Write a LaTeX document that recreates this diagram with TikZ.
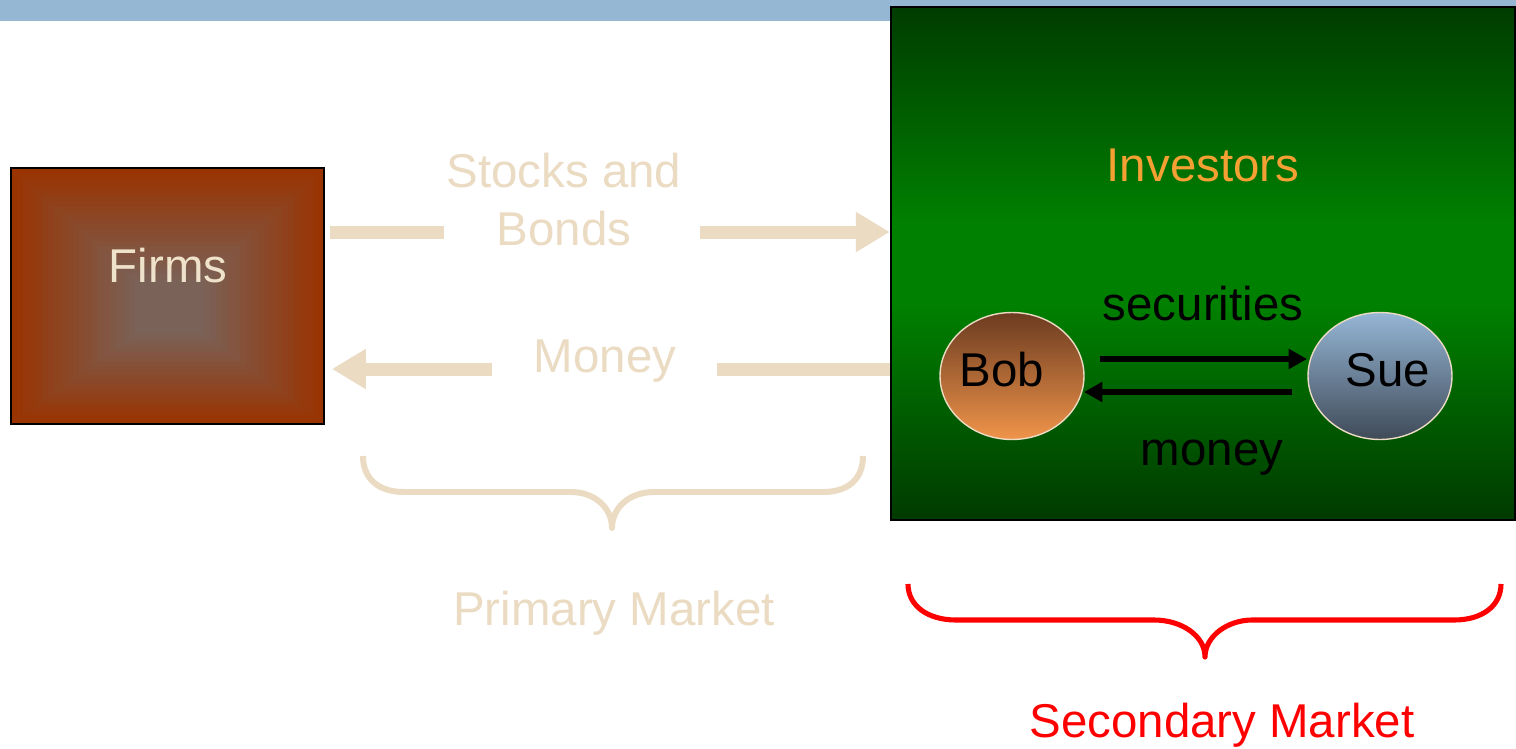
\documentclass[tikz,border=0pt]{standalone}
\usepackage{fontspec}
\setmainfont{Liberation Sans}
\usetikzlibrary{arrows.meta,shapes.geometric}
\definecolor{barblue}{HTML}{95B7D3}
\definecolor{cream}{HTML}{EADBC2}
\definecolor{firmtxt}{HTML}{EFE2CB}
\definecolor{firmout}{HTML}{993300}
\definecolor{firmin}{HTML}{7A6258}
\definecolor{gtop}{HTML}{003C00}
\definecolor{gmid}{HTML}{008000}
\definecolor{gbot}{HTML}{003A00}
\definecolor{invorange}{HTML}{F5A033}
\definecolor{bobtop}{HTML}{6B3B20}
\definecolor{bobbot}{HTML}{F0944A}
\definecolor{suetop}{HTML}{95B6D5}
\definecolor{suebot}{HTML}{3F4A58}
% green band: dark at both edges, bright in the middle
\pgfdeclareverticalshading{greenband}{100bp}{color(0bp)=(gbot); color(25bp)=(gbot);
  color(46bp)=(gmid); color(54bp)=(gmid); color(75bp)=(gtop); color(100bp)=(gtop)}
\begin{document}
\begin{tikzpicture}[x=0.02cm,y=-0.02cm,
  lbl/.style={font=\fontsize{27}{32}\selectfont, anchor=base, inner sep=0pt},
  flow/.style={draw=cream, line width=7.4pt},
  flowtip/.style={flow, -{Triangle[length=19.3pt,width=21.6pt]}},
  trade/.style={draw=black, line width=3.1pt, -{Triangle[length=10.5pt,width=11pt]}},
  person/.style={ellipse, draw=cream, line width=0.8pt, minimum width=2.88cm,
                 minimum height=2.54cm, inner sep=0pt},
  brace/.style={line join=round}]
\useasboundingbox (0,0) rectangle (1516,748);
\fill[white] (0,0) rectangle (1516,748);

% title bar
\fill[barblue] (0,0) rectangle (1516,21);

% firms box with a rectangular gradient
\foreach \i in {0,...,24}{
  \pgfmathsetmacro{\p}{min(100,\i*5)}
  \fill[firmin!\p!firmout] (11+\i*6.2,168+\i*5.6) rectangle (324-\i*6.0,424-\i*4.5);
}
\node[draw=black, line width=1.1pt, minimum width=6.26cm, minimum height=5.12cm,
      inner sep=0pt] (firms) at (167.5,296) {};
\node[lbl, text=firmtxt] (firmstxt) at (168,282) {Firms};

% investors box
\node[draw=black, line width=1.5pt, shading=greenband,
      minimum width=12.48cm, minimum height=10.26cm, inner sep=0pt] (market) at (1203,263.5) {};
\node[lbl, text=invorange] (invtxt) at (1203,181) {Investors};

% primary market flows
\coordinate (sbA) at (330,232);
\coordinate (sbB) at (444,232);
\coordinate (sbC) at (700,232);
\draw[flow] (sbA) -- (sbB);
\draw[flowtip] (sbC) -- (market.west |- sbC);
\node[lbl, text=cream] (stocks) at (564,187) {Stocks and};
\node[lbl, text=cream] (bonds) at (564,245) {Bonds};

\coordinate (moA) at (717,369);
\coordinate (moB) at (492,369);
\coordinate (moC) at (332,369);
\draw[flow] (market.west |- moA) -- (moA);
\draw[flowtip] (moB) -- (moC);
\node[lbl, text=cream] (moneytxt) at (605,372) {Money};

% traders
\node[person, top color=bobtop, bottom color=bobbot] (bob) at (1012,376) {};
\node[person, top color=suetop, bottom color=suebot] (sue) at (1380,376) {};
\node[lbl] (bobtxt) at (1002,386) {Bob};
\node[lbl] (suetxt) at (1388,386) {Sue};

\coordinate (secA) at (1100,359);
\coordinate (secB) at (1307,359);
\coordinate (monA) at (1292,392);
\coordinate (monB) at (1084,392);
\draw[trade] (secA) -- (secB);
\draw[trade] (monA) -- (monB);
\node[lbl] (sectxt) at (1203,320) {securities};
\node[lbl] (montxt) at (1212,465) {money};

% braces
\draw[brace, draw=cream, line width=3.4pt]
  (363,456) .. controls (363,480) and (380,492) .. (404,492) -- (571,492)
  .. controls (595,492) and (612,508) .. (612,528)
  .. controls (612,508) and (629,492) .. (654,492) -- (823,492)
  .. controls (847,492) and (863,480) .. (863,456);
\node[lbl, text=cream] (primtxt) at (614,625) {Primary Market};

\draw[brace, draw=red, line width=2.9pt]
  (908,584) .. controls (908,606) and (928,620) .. (956,620) -- (1154,620)
  .. controls (1182,620) and (1205,636) .. (1205,657)
  .. controls (1205,636) and (1228,620) .. (1252,620) -- (1454,620)
  .. controls (1482,620) and (1501,606) .. (1501,584);
\node[lbl, text=red] (sectxtm) at (1222,737) {Secondary Market};
\end{tikzpicture}
\end{document}
